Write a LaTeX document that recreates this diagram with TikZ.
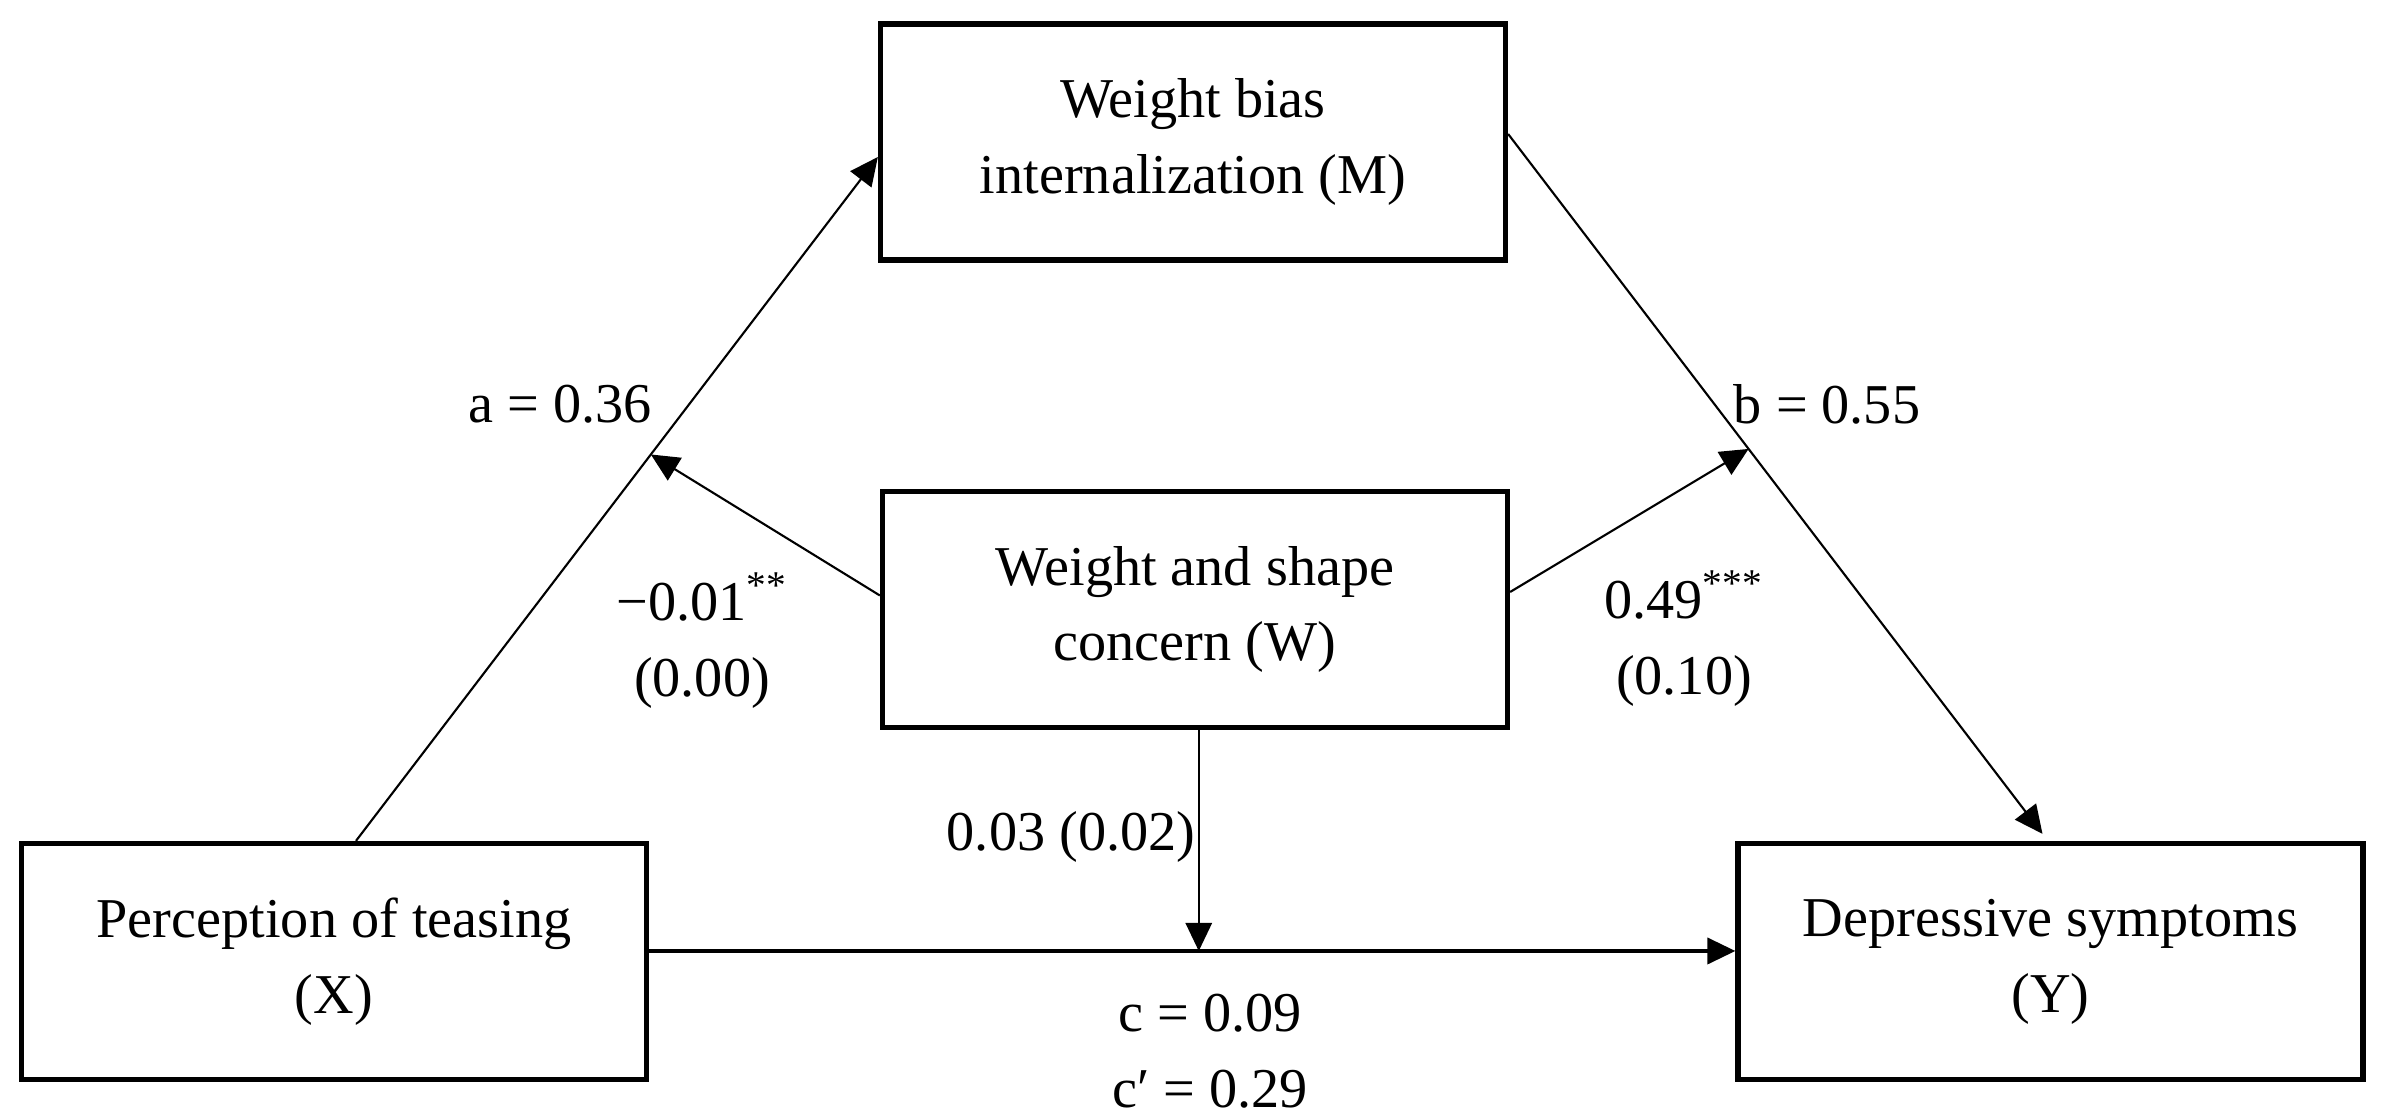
\documentclass[tikz,border=0pt]{standalone}
\usepackage{fontspec}
\setmainfont{Liberation Serif}
\usetikzlibrary{arrows.meta}

\newcommand{\pathfont}{\fontsize{16}{21.6}\selectfont}

\begin{document}
\begin{tikzpicture}[
    box/.style={rectangle, draw, line width=1.5pt, minimum width=6.25cm, minimum height=2.36cm, align=center, font=\pathfont},
    coef/.style={align=center, font=\pathfont, inner sep=0pt},
    arr/.style={-{Triangle[length=8pt, width=7.5pt]}, line width=0.6pt}
]
    \useasboundingbox (0,0) rectangle (23.83,11.17);

    % 四つの変数の箱
    \node[box] (M) at (11.93, 9.75) {Weight bias\\internalization (M)};
    \node[box] (W) at (11.95, 5.075) {Weight and shape\\concern (W)};
    \node[box] (X) at (3.34, 1.555) {Perception of teasing\\(X)};
    \node[box] (Y) at (20.505, 1.555) {Depressive symptoms\\(Y)};

    % 経路の矢印
    \draw[arr] ([xshift=0.22cm]X.north) -- coordinate[pos=0.565] (aMid) ([yshift=-0.15cm]M.west);
    \draw[arr] ([yshift=0.08cm]M.east) -- coordinate[pos=0.45] (bMid) ([xshift=-0.08cm, yshift=0.07cm]Y.north);
    \draw[arr, line width=0.9pt] ([yshift=0.105cm]X.east) -- coordinate[pos=0.506] (cMid) ([yshift=0.105cm]Y.west);

    % 調整変数からの矢印
    \draw[arr] ([yshift=0.14cm]W.west) -- (aMid);
    \draw[arr] ([yshift=0.175cm]W.east) -- (bMid);
    \draw[arr] (W.south -| cMid) -- (cMid);

    % 係数
    \node[coef] (aLab) at (5.60, 7.13) {a = 0.36};
    \node[coef] (bLab) at (18.27, 7.13) {b = 0.55};
    \node[coef] (awLab) at (7.02, 4.76) {−0.01\textsuperscript{**}\\(0.00)};
    \node[coef] (bwLab) at (16.84, 4.78) {0.49\textsuperscript{***}\\(0.10)};
    \node[coef] (cwLab) at (10.71, 2.80) {0.03 (0.02)};
    \node[coef] (cLab) at (12.10, 0.66) {c = 0.09\\c′ = 0.29};

\end{tikzpicture}
\end{document}
